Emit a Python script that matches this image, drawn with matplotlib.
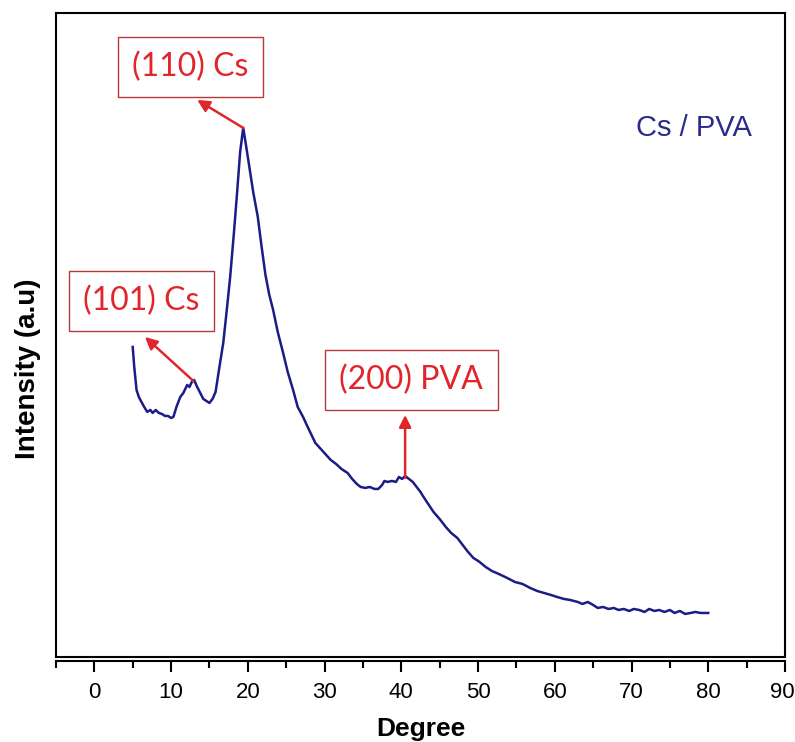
import matplotlib
matplotlib.use('Agg')
import matplotlib.pyplot as plt
import numpy as np

# XRD pattern of Cs / PVA film
degree = [5.0, 5.2, 5.5, 5.8, 6.0, 6.5, 6.9, 7.3, 7.6, 8.0, 8.4, 8.8, 9.2,
          9.6, 10.0, 10.3, 10.7, 11.2, 11.6, 12.1, 12.4, 12.7, 13.0, 13.4,
          13.8, 14.2, 14.6, 15.0, 15.4, 15.8, 16.3, 16.8, 17.3, 17.7, 18.2,
          18.6, 19.0, 19.4, 19.8, 20.2, 20.7, 21.3, 21.8, 22.3, 22.8, 23.3,
          23.9, 24.6, 25.2, 25.9, 26.5, 27.2, 27.8, 28.3, 28.8, 29.5, 30.2,
          30.8, 31.5, 32.2, 33.0, 33.6, 34.2, 34.7, 35.3, 35.9, 36.5, 37.0,
          37.5, 37.8, 38.2, 38.8, 39.3, 39.7, 40.1, 40.5, 41.0, 41.5, 42.0,
          42.5, 42.9, 43.5, 44.2, 45.1, 45.8, 46.5, 47.3, 48.0, 48.7, 49.4,
          50.2, 51.0, 51.8, 52.7, 53.8, 54.8, 55.8, 56.8, 57.7, 58.6, 59.5,
          60.3, 61.2, 62.0, 63.0, 63.6, 64.3, 65.0, 65.6, 66.3, 67.0, 67.7,
          68.3, 69.0, 69.7, 70.3, 71.0, 71.7, 72.3, 73.0, 73.6, 74.3, 75.0,
          75.6, 76.3, 77.0, 77.7, 78.3, 79.0, 80.0]
intensity = [310, 290, 267, 260, 257, 250, 245, 247, 244, 247, 244, 243, 241,
             241, 239, 240, 250, 260, 264, 272, 270, 275, 277, 270,
             264, 258, 256, 254, 258, 265, 290, 314, 350, 380, 425,
             464, 505, 529, 510, 490, 465, 440, 410, 382, 362, 347,
             325, 304, 285, 267, 250, 240, 230, 222, 214, 208, 202,
             197, 193, 188, 184, 178, 173, 170, 169, 170, 168, 168,
             172, 176, 175, 176, 175, 180, 178, 181, 178, 175, 170,
             165, 160, 153, 145, 137, 130, 124, 119, 112, 105, 99,
             95, 90, 86, 83, 79, 75, 73, 69, 66, 64, 62,
             60, 58, 57, 55, 53, 55, 52, 49, 50, 48, 49,
             47, 48, 46, 48, 47, 45, 48, 46, 47, 45, 47,
             44, 46, 43, 44, 45, 44, 44]

# (label, text position, arrow tip, arrow tail)
labels = ['(110) Cs', '(101) Cs', '(200) PVA']
label_pos = [(12.5, 590), (6.1, 356), (41.3, 277)]
arrow_tip = [(13.4, 557), (6.6, 320), (40.5, 242)]
arrow_tail = [(19.4, 529), (12.9, 276), (40.5, 179)]

x_ticks = [0, 10, 20, 30, 40, 50, 60, 70, 80, 90]
# trailing space keeps the last label inside the figure edge
x_ticklabels = ['0', '10', '20', '30', '40', '50', '60', '70', '80', '90 ']


def main():
    plt.rcParams['font.family'] = ['Liberation Sans', 'DejaVu Sans']
    fig = plt.figure(figsize=(7.95, 7.42), dpi=100)
    ax = fig.add_axes([0.0704, 0.1146, 0.917, 0.868])

    ax.plot(degree, intensity, color='#1c1c86', lw=1.8)

    ax.set_xlim(-5, 90)
    ax.set_ylim(0, 644)
    ax.set_xticks(x_ticks)
    ax.set_xticklabels(x_ticklabels)
    ax.set_xticks(np.arange(-5, 90, 10), minor=True)
    ax.set_yticks([])
    ax.tick_params(axis='x', which='major', length=8, width=1.5,
                   direction='out', labelsize=16, pad=7)
    ax.tick_params(axis='x', which='minor', length=5, width=1.5,
                   direction='out')

    for s in ax.spines.values():
        s.set_linewidth(1.5)
    # the x axis sits a little below the frame
    ax.spines['bottom'].set_position(('outward', 3))
    ax.axhline(0, color='black', lw=1.5, clip_on=False)

    ax.set_xlabel('Degree', fontsize=19, fontweight='bold', labelpad=10)
    ax.set_ylabel('Intensity (a.u)', fontsize=20, fontweight='bold')
    ax.yaxis.set_label_coords(-0.02, 0.448)

    for lab, pos, tip, tail in zip(labels, label_pos, arrow_tip, arrow_tail):
        ax.text(pos[0], pos[1], lab, color='#e0262b', fontsize=23,
                family=['Lato', 'DejaVu Sans'], ha='center', va='center',
                bbox=dict(boxstyle='square,pad=0.45', fc='white',
                          ec='#b5393c', lw=1.0))
        ax.annotate('', xy=tip, xytext=tail,
                    arrowprops=dict(arrowstyle='-|>', color='#e0262b',
                                    lw=1.8, mutation_scale=18,
                                    shrinkA=0, shrinkB=0))

    ax.text(78.1, 529, 'Cs / PVA', color='#2b2b8a', fontsize=21,
            ha='center', va='center')

    fig.savefig('out.png', dpi=100)


if __name__ == '__main__':
    main()
